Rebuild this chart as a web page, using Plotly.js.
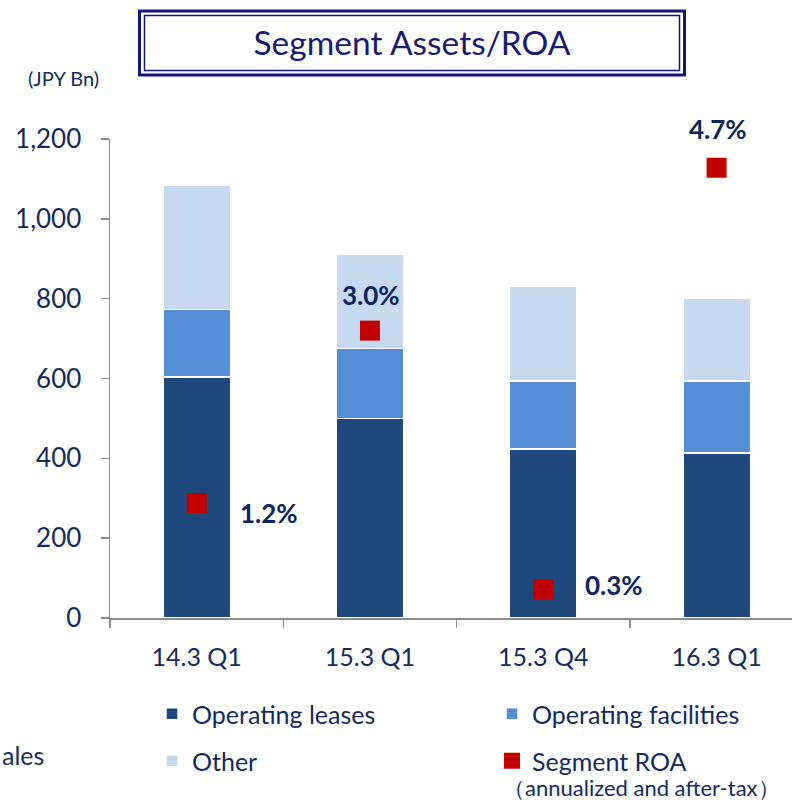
<!DOCTYPE html>
<html>
<head>
<meta charset="utf-8">
<script src="https://cdn.plot.ly/plotly-3.0.1.min.js"></script>
<style>
  html, body { margin: 0; padding: 0; background: #ffffff; }
  #chart { width: 792px; height: 804px; }
</style>
</head>
<body>
<div id="chart"></div>
<script>
// ---- data ----
const categories = ['14.3 Q1', '15.3 Q1', '15.3 Q4', '16.3 Q1'];
const operatingLeases = [604, 500, 424, 414];
const operatingFacilities = [169, 175, 170, 180];
const other = [310, 237, 238, 208];
const segmentROA = [1.2, 3.0, 0.3, 4.7];
const roaLabels = ['1.2%', '3.0%', '0.3%', '4.7%'];
const yTicks = [0, 200, 400, 600, 800, 1000, 1200];

// ---- style ----
const navy = '#132B5E';
const labelNavy = '#0B2460';
const fontFam = 'Lato, "Open Sans", sans-serif';
const axisGrey = '#8C8C8C';
// pixel -> paper helpers (plot area: x 110..792, y 139..618)
const L = 110, R = 792, T = 139, B = 618;
const px = v => (v - L) / (R - L);
const py = v => (B - v) / (B - T);

const barLine = { color: '#ffffff', width: 1.5 };
const traces = [
  { type: 'bar', name: 'Operating leases', x: categories, y: operatingLeases,
    marker: { color: '#1F497D', line: barLine }, width: 0.39, legend: 'legend', hoverinfo: 'none' },
  { type: 'bar', name: 'Operating facilities', x: categories, y: operatingFacilities,
    marker: { color: '#558ED5', line: barLine }, width: 0.39, legend: 'legend', hoverinfo: 'none' },
  { type: 'bar', name: 'Other', x: categories, y: other,
    marker: { color: '#C6D9F1', line: barLine }, width: 0.39, legend: 'legend2', hoverinfo: 'none' },
  { type: 'scatter', mode: 'markers', name: 'Segment ROA', x: categories, y: segmentROA,
    yaxis: 'y2', cliponaxis: false,
    marker: { symbol: 'square', size: 20, color: '#C00000' }, legend: 'legend2', hoverinfo: 'none' }
];

// label offsets (px) relative to each ROA marker
const labelShift = [[72, -10], [1, 36], [71, 4], [1, 39]];
const annotations = roaLabels.map((t, i) => ({
  text: '<b>' + t + '</b>', x: categories[i], y: segmentROA[i], xref: 'x', yref: 'y2',
  xshift: labelShift[i][0], yshift: labelShift[i][1], showarrow: false,
  xanchor: 'center', yanchor: 'middle',
  font: { family: fontFam, size: 26, color: labelNavy }
}));
annotations.push(
  { text: '(JPY Bn)', xref: 'paper', yref: 'paper', x: px(63), y: py(78), showarrow: false,
    xanchor: 'center', yanchor: 'middle', font: { family: fontFam, size: 20, color: navy } },
  { text: 'ales', xref: 'paper', yref: 'paper', x: px(0), y: py(755), showarrow: false,
    xanchor: 'left', yanchor: 'middle', font: { family: fontFam, size: 25, color: navy } },
  { text: '（annualized and after-tax）', xref: 'paper', yref: 'paper', x: px(641), y: py(803), showarrow: false,
    xanchor: 'center', yanchor: 'bottom', font: { family: fontFam, size: 22, color: navy } }
);

const boxColor = '#14147A';
const shapes = [
  { type: 'rect', xref: 'paper', yref: 'paper', x0: px(139.5), x1: px(684.5), y0: py(11), y1: py(75),
    line: { color: boxColor, width: 3 }, fillcolor: 'rgba(0,0,0,0)' },
  { type: 'rect', xref: 'paper', yref: 'paper', x0: px(144.5), x1: px(679.5), y0: py(15.5), y1: py(70.5),
    line: { color: boxColor, width: 1.5 }, fillcolor: 'rgba(0,0,0,0)' }
];

const legendBase = {
  orientation: 'h', xanchor: 'left', yanchor: 'middle', entrywidth: 295, entrywidthmode: 'pixels',
  font: { family: fontFam, size: 25, color: navy }, bgcolor: 'rgba(0,0,0,0)', borderwidth: 0,
  traceorder: 'normal'
};

const layout = {
  width: 792, height: 804,
  paper_bgcolor: '#ffffff', plot_bgcolor: '#ffffff',
  margin: { l: L, r: 0, t: T, b: 804 - B, autoexpand: false },
  font: { family: fontFam, color: navy },
  title: { text: 'Segment Assets/ROA', x: 412 / 792, xanchor: 'center', y: 1 - 43 / 804, yanchor: 'middle',
    xref: 'container', yref: 'container', font: { family: fontFam, size: 33.5, color: '#1A1A6E' } },
  barmode: 'stack',
  showlegend: true,
  legend: Object.assign({}, legendBase, { x: px(152), y: py(714) }),
  legend2: Object.assign({}, legendBase, { x: px(152), y: py(761) }),
  xaxis: {
    type: 'category', range: [-0.5, -0.5 + (R - L) / 173.3], showgrid: false, zeroline: false,
    showline: true, linecolor: axisGrey, linewidth: 1.5,
    ticks: 'outside', tickson: 'boundaries', ticklen: 8, tickcolor: axisGrey, tickwidth: 1.5,
    ticklabelstandoff: 16,
    tickfont: { family: fontFam, size: 25, color: navy }, fixedrange: true
  },
  yaxis: {
    range: [0, 1200], tickvals: yTicks, tickformat: ',', showgrid: false, zeroline: false,
    showline: true, linecolor: axisGrey, linewidth: 1.5,
    ticks: 'outside', ticklen: 8, tickcolor: axisGrey, tickwidth: 1.5,
    ticklabelstandoff: 14,
    tickfont: { family: fontFam, size: 26, color: navy }, fixedrange: true
  },
  yaxis2: { overlaying: 'y', range: [0, 5], visible: false, fixedrange: true },
  annotations: annotations,
  shapes: shapes
};

Plotly.newPlot('chart', traces, layout, { staticPlot: true, displayModeBar: false });
</script>
</body>
</html>
